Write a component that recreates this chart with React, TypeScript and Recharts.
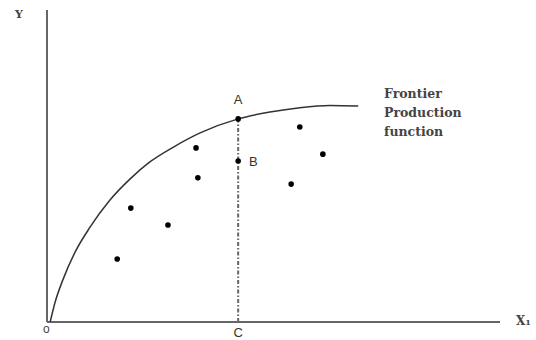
import {
  ComposedChart,
  Line,
  ReferenceDot,
  ReferenceLine,
  Scatter,
  XAxis,
  YAxis,
} from 'recharts'

// frontier curve (x = input, y = output, both 0..100)
const frontierX = [0.7, 1.8, 3.5, 6.2, 9.5, 13.9, 18.3, 22.7, 28.3, 33.8, 42.2, 49.2, 55.8, 62.5, 68.7]
const frontierY = [0, 6.4, 13.5, 22.4, 30.4, 39.1, 45.8, 51.3, 56.4, 60.6, 65.1, 67.3, 68.7, 69.4, 69.2]

// observed firms (inside the frontier)
const firmX = [15.5, 18.5, 26.7, 32.9, 33.3, 53.9, 55.8, 60.9]
const firmY = [20.2, 36.5, 31.1, 55.8, 46.2, 44.2, 62.5, 53.8]

const pointA = { x: 42.2, y: 65.1 }
const pointB = { x: 42.2, y: 51.6 }

const curve = frontierX.map((x, i) => ({ x, y: frontierY[i] }))
const firms = firmX.map((x, i) => ({ x, y: firmY[i] }))

const axisColor = '#666'
const sans = "'Liberation Sans', Arial, sans-serif"
const serif = "'DejaVu Serif', 'Liberation Serif', serif"

export default function App() {
  return (
    <div style={{ position: 'relative', width: 536, height: 340, background: '#fff' }}>
      <style>{'body{margin:0}'}</style>
      <ComposedChart
        width={536}
        height={340}
        margin={{ top: 10, right: 36, bottom: 18, left: 47 }}
      >
        <XAxis type="number" dataKey="x" domain={[0, 100]} hide allowDataOverflow />
        <YAxis type="number" dataKey="y" domain={[0, 100]} hide allowDataOverflow />
        <ReferenceLine x={0} stroke={axisColor} strokeWidth={2} />
        <ReferenceLine y={0} stroke={axisColor} strokeWidth={2} />
        <ReferenceLine
          segment={[
            { x: pointA.x, y: 0 },
            { x: pointA.x, y: pointA.y },
          ]}
          stroke="#666"
          strokeWidth={2}
          strokeDasharray="4 2 1.5 2"
        />
        <Line
          data={curve}
          dataKey="y"
          type="monotone"
          stroke="#333"
          strokeWidth={1.5}
          dot={false}
          isAnimationActive={false}
        />
        <Scatter data={firms} dataKey="y" fill="#000" isAnimationActive={false} shape={(p: any) => <circle cx={p.cx} cy={p.cy} r={2.8} fill="#000" />} />
        <ReferenceDot
          x={pointA.x}
          y={pointA.y}
          r={2.8}
          fill="#000"
          stroke="none"
          label={{ value: 'A', position: 'top', offset: 12, fill: '#333', fontSize: 13, fontFamily: sans }}
        />
        <ReferenceDot
          x={pointB.x}
          y={pointB.y}
          r={2.8}
          fill="#000"
          stroke="none"
          label={{ value: 'B', position: 'right', offset: 8, fill: '#333', fontSize: 13, fontFamily: sans }}
        />
        <ReferenceDot
          x={pointA.x}
          y={0}
          r={0}
          stroke="none"
          label={{ value: 'C', position: 'bottom', offset: 6, fill: '#333', fontSize: 13, fontFamily: sans }}
        />
      </ComposedChart>
      <div style={{ position: 'absolute', left: 15, top: 8, font: `bold 11px ${serif}`, color: '#444' }}>Y</div>
      <div style={{ position: 'absolute', left: 43, top: 322, font: `12px ${sans}`, color: '#444' }}>o</div>
      <div style={{ position: 'absolute', left: 516, top: 314, font: `bold 12px ${serif}`, color: '#444' }}>
        X<span style={{ fontSize: 8 }}>1</span>
      </div>
      <div
        style={{
          position: 'absolute',
          left: 384,
          top: 84,
          font: `bold 12.5px ${serif}`,
          lineHeight: '19px',
          color: '#444',
        }}
      >
        Frontier
        <br />
        Production
        <br />
        function
      </div>
    </div>
  )
}
